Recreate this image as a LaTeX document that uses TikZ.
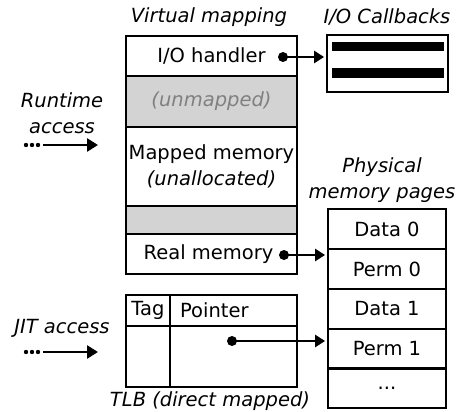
\documentclass[tikz,border=0pt]{standalone}
\usepackage{fontspec}
\setmainfont{DejaVu Sans}
\usetikzlibrary{arrows.meta}
\definecolor{unmapgray}{RGB}{211,211,211}
\definecolor{unmaptext}{RGB}{128,128,128}
\newcommand{\memcell}[4][]{\node[rectangle,draw,line width=2.8pt,inner sep=0pt,#1] at (#2) (#3) {#4}}

\begin{document}
\begin{tikzpicture}[x=1pt,y=-1pt,font=\fontsize{19.5}{26}\selectfont,
	vrow/.style={minimum width=171pt},
	page/.style={minimum width=118pt,minimum height=40pt},
	ptr/.style={line width=2.4pt,-{Triangle[length=10pt,width=12pt]}},
	access/.style={line width=2.6pt,-{Triangle[length=11pt,width=13pt]}},
	title/.style={font=\fontsize{19.5}{26}\selectfont\itshape}]
					\useasboundingbox (0,0) rectangle (466,412);
					
					\node[title] at (209,17) (vmtitle) {Virtual mapping};
					\node[title] at (387,17) (cbtitle) {I/O Callbacks};
					\node[title,align=center] at (382,180) (pmtitle) {Physical\\memory pages};
					\node[title,align=center] at (62,113) (rtlabel) {Runtime\\access};
					\node[title] at (62,328) (jitlabel) {JIT access};
					\node[title] at (210,401) (tlbtitle) {TLB (direct mapped)};
					
					% virtual mapping
					\memcell[vrow,minimum height=40pt]{211.5,56}{ioh}{I/O handler};
					\memcell[vrow,minimum height=51pt,fill=unmapgray,text=unmaptext,font=\fontsize{19.5}{26}\selectfont\itshape]{211.5,101.5}{unm}{(unmapped)};
					\memcell[vrow,minimum height=79pt,align=center]{211.5,166.5}{mapd}{Mapped memory\\\itshape(unallocated)};
					\memcell[vrow,minimum height=28pt,fill=unmapgray]{211.5,220}{gap}{};
					\memcell[vrow,minimum height=40pt]{211.5,254}{real}{\hspace*{-6pt}Real memory};
					
					% callbacks
					\memcell[minimum width=121pt,minimum height=57pt]{387.5,63.5}{cb}{};
					\fill (332,42) rectangle (444,51);
					\fill (332,68) rectangle (444,78);
					
					% physical pages
					\memcell[page]{387,229}{d0}{Data 0};
					\memcell[page]{387,269}{p0}{Perm 0};
					\memcell[page]{387,309}{d1}{Data 1};
					\memcell[page]{387,349}{p1}{Perm 1};
					\memcell[page]{387,388}{more}{...};
					
					% TLB
					\memcell[minimum width=44pt,minimum height=31pt]{148,310.5}{taghd}{Tag};
					\memcell[minimum width=127pt,minimum height=31pt]{233.5,310.5}{ptrhd}{};
					\memcell[minimum width=44pt,minimum height=61pt]{148,356.5}{tagbody}{};
					\memcell[minimum width=127pt,minimum height=61pt]{233.5,356.5}{ptrbody}{};
					\node[anchor=west] at ([xshift=8pt]ptrhd.west) (ptrtxt) {Pointer};
					
					\coordinate (iodot) at (283,57);
					\coordinate (realdot) at (284,255);
					\coordinate (tlbdot) at (232,341);
					\fill (iodot) circle (5);
					\fill (realdot) circle (5);
					\fill (tlbdot) circle (5);
					\draw[ptr,shorten >=1.5pt] (iodot) -- (iodot -| cb.west);
					\draw[ptr,shorten >=1.5pt] (realdot) -- (realdot -| p0.west);
					\draw[ptr,shorten >=1.5pt] (tlbdot) -- (tlbdot -| p1.west);
					
					% access arrows
					\coordinate (rtstart) at (43,145);
					\coordinate (rtend) at (98,145);
					\coordinate (jitstart) at (43,352);
					\coordinate (jitend) at (98,352);
					\foreach \x in {26,32,38} {
						\fill (\x,145) circle (2.2);
						\fill (\x,352) circle (2.2);
					}
					\draw[access] (rtstart) -- (rtend);
					\draw[access] (jitstart) -- (jitend);
				\end{tikzpicture}
\end{document}
